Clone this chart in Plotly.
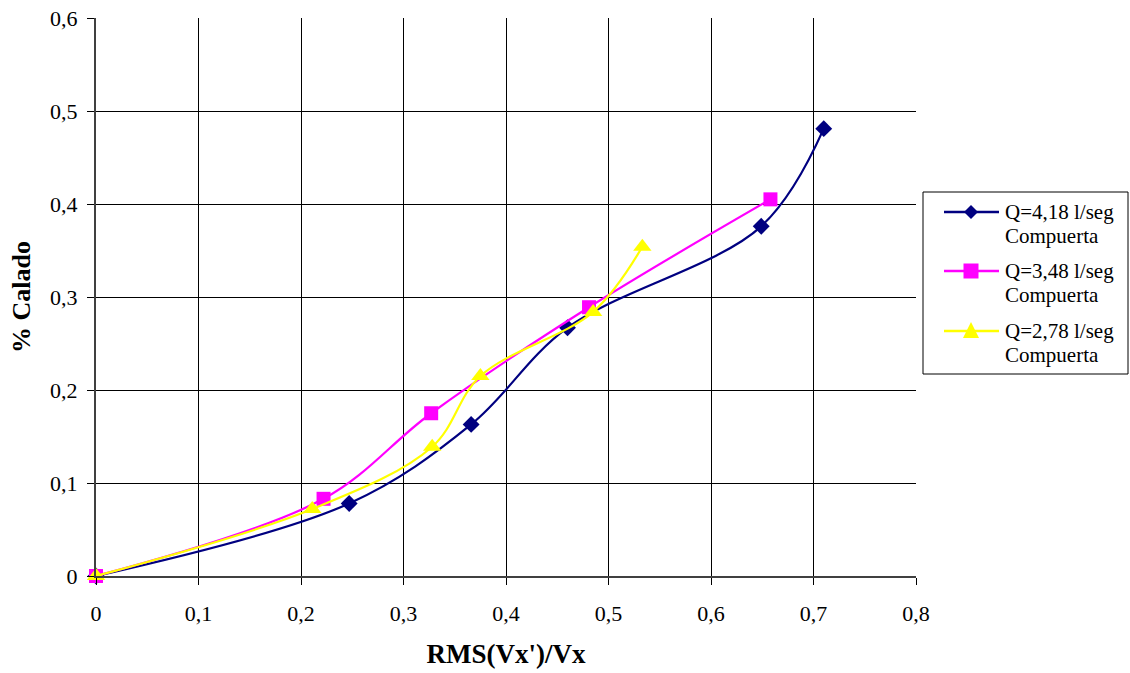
import plotly.graph_objects as go

# Data
x_q418 = [0, 0.247, 0.366, 0.460, 0.649, 0.710]
y_q418 = [0, 0.078, 0.163, 0.267, 0.376, 0.481]

x_q348 = [0, 0.222, 0.327, 0.481, 0.658]
y_q348 = [0, 0.083, 0.175, 0.289, 0.405]

x_q278 = [0, 0.211, 0.328, 0.375, 0.485, 0.533]
y_q278 = [0, 0.072, 0.139, 0.215, 0.284, 0.354]

series_names = ["Q=4,18 l/seg", "Q=3,48 l/seg", "Q=2,78 l/seg"]
series_sub = ["Compuerta", "Compuerta", "Compuerta"]
colors = ["#000080", "#FF00FF", "#FFFF00"]
symbols = ["diamond", "square", "triangle-up"]
sizes = [13, 14, 16]

FONT = "Liberation Serif, Times New Roman, serif"

# plot-area geometry (pixels) for the hand-drawn legend
W, H = 1130, 673
L, R, T, B = 96, 214, 18, 97
PW, PH = W - L - R, H - T - B


def px(x):
    return (x - L) / PW


def py(y):
    return (H - B - y) / PH


fig = go.Figure()
for xs, ys, nm, c, s, sz in zip([x_q418, x_q348, x_q278], [y_q418, y_q348, y_q278],
                                series_names, colors, symbols, sizes):
    fig.add_trace(go.Scatter(
        x=xs, y=ys, name=nm, mode="lines+markers", showlegend=False,
        line=dict(color=c, width=2.2, shape="spline", smoothing=1.0),
        marker=dict(color=c, symbol=s, size=sz, line=dict(width=0)),
        cliponaxis=False,
    ))

shapes = []
annotations = []
# legend box
shapes.append(dict(type="rect", xref="paper", yref="paper",
                   x0=px(923), x1=px(1128), y0=py(192), y1=py(374),
                   line=dict(color="black", width=1), fillcolor="white", layer="above"))
entry_y = [212, 271, 331]
for i, (ey, c) in enumerate(zip(entry_y, colors)):
    shapes.append(dict(type="line", xref="paper", yref="paper",
                       x0=px(944), x1=px(999), y0=py(ey), y1=py(ey),
                       line=dict(color=c, width=2.5), layer="above"))
    cx = 971
    if i == 0:
        h = 7
        path = (f"M{px(cx - h)},{py(ey)} L{px(cx)},{py(ey - h)} "
                f"L{px(cx + h)},{py(ey)} L{px(cx)},{py(ey + h)} Z")
    elif i == 1:
        h = 7.5
        path = (f"M{px(cx - h)},{py(ey - h)} L{px(cx + h)},{py(ey - h)} "
                f"L{px(cx + h)},{py(ey + h)} L{px(cx - h)},{py(ey + h)} Z")
    else:
        path = (f"M{px(cx - 8)},{py(ey + 7)} L{px(cx + 8)},{py(ey + 7)} "
                f"L{px(cx)},{py(ey - 9)} Z")
    shapes.append(dict(type="path", xref="paper", yref="paper", path=path,
                       fillcolor=c, line=dict(width=0), layer="above"))
    annotations.append(dict(xref="paper", yref="paper", x=px(1003), y=py(ey),
                            xanchor="left", yanchor="middle", showarrow=False,
                            text=series_names[i],
                            font=dict(family=FONT, size=21, color="black")))
    annotations.append(dict(xref="paper", yref="paper", x=px(1003), y=py(ey + 24),
                            xanchor="left", yanchor="middle", showarrow=False,
                            text=series_sub[i],
                            font=dict(family=FONT, size=21, color="black")))

fig.update_layout(
    width=W, height=H,
    margin=dict(l=L, r=R, t=T, b=B, autoexpand=False),
    paper_bgcolor="white", plot_bgcolor="white",
    separators=", ",
    font=dict(family=FONT, size=21, color="black"),
    showlegend=False,
    shapes=shapes,
    annotations=annotations,
)

fig.update_xaxes(
    range=[0, 0.8], tick0=0, dtick=0.1,
    showgrid=True, gridcolor="black", gridwidth=1,
    zeroline=False, showline=True, linecolor="#404040", linewidth=2,
    ticks="outside", ticklen=7, tickcolor="black",
    ticklabelstandoff=10, automargin=False,
    tickfont=dict(family=FONT, size=22),
    title=dict(text="<b>RMS(Vx')/Vx</b>", font=dict(family=FONT, size=27), standoff=19),
)
fig.update_yaxes(
    range=[0, 0.6], tick0=0, dtick=0.1,
    showgrid=True, gridcolor="black", gridwidth=1,
    zeroline=False, showline=True, linecolor="#404040", linewidth=2,
    ticks="outside", ticklen=7, tickcolor="black",
    ticklabelstandoff=5, automargin=False,
    tickfont=dict(family=FONT, size=22),
    title=dict(text="<b>% Calado</b>", font=dict(family=FONT, size=26), standoff=12),
)

fig.write_html("out.html")
